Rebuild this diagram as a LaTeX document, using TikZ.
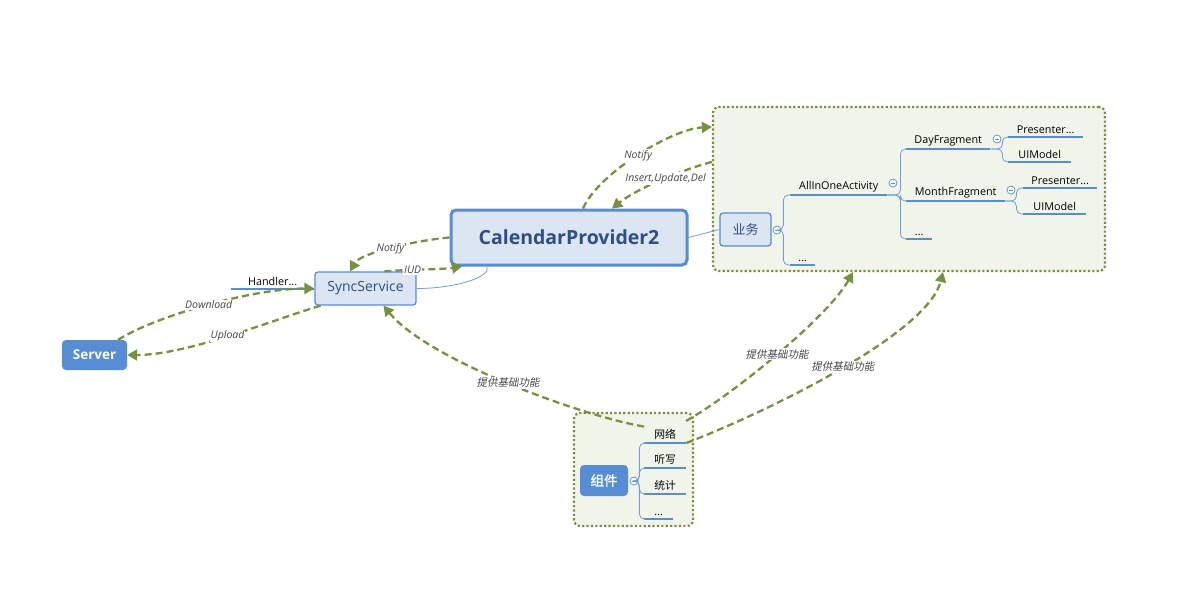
\documentclass[tikz,border=0pt]{standalone}
\usepackage{fontspec}
\setmainfont{Open Sans}
\newfontfamily\cjk{Noto Sans CJK SC}
\newfontfamily\cjkbold[FakeBold=1.6]{Noto Sans CJK SC}
\newfontfamily\cjkslant[FakeSlant=0.2]{Noto Sans CJK SC}
\usetikzlibrary{arrows.meta}

\definecolor{mapblue}{RGB}{86,141,212}
\definecolor{maplight}{RGB}{220,230,242}
\definecolor{mapnavy}{RGB}{44,78,138}
\definecolor{flowgreen}{RGB}{118,146,60}
\definecolor{groupfill}{RGB}{241,245,233}
\definecolor{labelgray}{RGB}{70,70,70}
\newcommand\mapdots{...}

\begin{document}
\begin{tikzpicture}[x=1pt, y=-1pt,
    group/.style={draw=flowgreen, fill=groupfill, line width=2.2pt,
                  dash pattern=on 2.2pt off 2.2pt, rounded corners=6pt},
    central/.style={draw=mapblue, fill=maplight, line width=3pt, rounded corners=5pt,
                    text=mapnavy, font=\fontsize{19.5}{22}\selectfont\bfseries},
    topic/.style={draw=mapblue, fill=maplight, line width=1.3pt, rounded corners=3pt,
                  text=mapnavy, font=\fontsize{14}{16}\selectfont},
    solid topic/.style={fill=mapblue, rounded corners=4pt, text=white,
                        font=\fontsize{13.5}{15}\selectfont\bfseries},
    leaf/.style={anchor=south west, inner xsep=0pt, inner ysep=3pt, text=black,
                 font=\fontsize{10.8}{12}\selectfont},
    underline/.style={mapblue, line width=2pt},
    branch/.style={mapblue!85, line width=0.8pt, rounded corners=5pt},
    link/.style={mapblue!85, line width=0.8pt},
    fold/.style={circle, draw=mapblue, fill=white, line width=0.7pt,
                 minimum size=8pt, inner sep=0pt,
                 path picture={\draw[mapblue, line width=0.7pt]
                   ([xshift=-2.2pt]path picture bounding box.center) --
                   ([xshift=2.2pt]path picture bounding box.center);}},
    flow/.style={flowgreen, line width=2.3pt, dash pattern=on 7pt off 4pt,
                 -{Triangle[length=10pt,width=11pt]}},
    flowlabel/.style={fill=white, inner sep=1pt, text=labelgray,
                      font=\fontsize{10.5}{12}\selectfont\itshape},
    cjklabel/.style={flowlabel, font=\cjkslant\fontsize{10.5}{12}\selectfont}]

  \useasboundingbox (0,0) rectangle (1197,590);

  % Groups
  \node[group, minimum width=392pt, minimum height=164pt] (biz) at (909,189) {};
  \node[group, minimum width=119pt, minimum height=113pt] (comp) at (633.5,469.5) {};

  % Main topics
  \node[central, minimum width=236pt, minimum height=55pt] (calendar) at (569,237.5) {CalendarProvider2};
  \node[topic, minimum width=101pt, minimum height=33pt] (sync) at (365.5,288.5) {SyncService};
  \node[solid topic, minimum width=65pt, minimum height=30pt] (server) at (94.5,355) {Server};
  \node[topic, minimum width=51pt, minimum height=33pt, font=\cjk\fontsize{13}{15}\selectfont] (biz main) at (745.5,229.5) {业务};
  \node[solid topic, minimum width=48pt, minimum height=31pt, font=\cjkbold\fontsize{13.5}{15}\selectfont] (comp main) at (604,480.5) {组件};

  % Leaves with underlines
  \foreach \name/\txt/\x/\y/\w in {
      act/AllInOneActivity/790/195/97, biz more/\mapdots/790/265/25,
      day/DayFragment/906/149/84, month/MonthFragment/906/201/99, act more/\mapdots/906/239/26,
      day pres/Presenter\mapdots/1008/137/75, day ui/UIModel/1008/162/63,
      month pres/Presenter\mapdots/1023/188/74, month ui/UIModel/1023/214/63,
      net/{\cjk 网络}/644/443/42, dict/{\cjk 听写}/644/468/42,
      stat/{\cjk 统计}/644/494/42, comp more/\mapdots/644/519/29} {
    \node[leaf, minimum width=\w pt] (\name) at (\x,\y) {\txt};
    \draw[underline] (\name.south west) -- (\name.south east);
  }
  \node[leaf, anchor=south east, minimum width=83pt] (handler) at (sync.west) {Handler...};
  \draw[underline] (handler.south west) -- (handler.south east);

  % Fold markers
  \node[fold] (biz fold) at (777,230) {};
  \node[fold] (act fold) at (893,183) {};
  \node[fold] (day fold) at (997,139) {};
  \node[fold] (month fold) at (1011,190) {};
  \node[fold] (comp fold) at (634,481) {};

  % Branches
  \foreach \child in {act, biz more}
    \draw[branch] (biz fold.east) -- ++(2,0) |- (\child.south west);
  \foreach \child in {day, month, act more}
    \draw[branch] (act.south east) -- ++(13,0) |- (\child.south west);
  \foreach \child in {day pres, day ui}
    \draw[branch] (day.south east) -- ++(12,0) |- (\child.south west);
  \foreach \child in {month pres, month ui}
    \draw[branch] (month.south east) -- ++(11,0) |- (\child.south west);
  \foreach \child in {net, dict, stat, comp more}
    \draw[branch] (comp fold.east) -- ++(1,0) |- (\child.south west);

  % Thin links between topics
  \draw[link] (calendar.east) -- (biz main.west);
  \draw[link] (sync.east) .. controls +(40,0) and +(5,10) .. ([xshift=-82pt]calendar.south);

  % Data flows
  \draw[flow] ([xshift=14pt]calendar.north) .. controls +(15,-35) and +(-40,2) ..
    node[flowlabel, pos=.5] {Notify} ([yshift=-21pt]biz.north west);
  \draw[flow] ([yshift=-56pt]biz.north west) .. controls +(-30,8) and +(25,-20) ..
    node[flowlabel, pos=.45] {Insert,Update,Del} ([xshift=43pt]calendar.north);
  \draw[flow] (calendar.west) .. controls +(-35,3) and +(10,-18) ..
    node[flowlabel, pos=.5] {Notify} ([xshift=-15.5pt]sync.north);
  \draw[flow] ([xshift=19pt]sync.north) .. controls +(25,-2) and +(-20,3) ..
    node[flowlabel, pos=.35] {IUD} ([xshift=-107pt]calendar.south);
  \draw[flow] ([xshift=23.5pt]server.north) .. controls +(40,-25) and +(-60,0) ..
    node[flowlabel, pos=.5] {Download} (sync.west);
  \draw[flow] ([xshift=-45pt]sync.south) .. controls +(-50,15) and +(60,0) ..
    node[flowlabel, pos=.5] {Upload} (server.east);

  % Components serve the others
  \draw[flow] (net.north west) .. controls +(-60,-10) and +(45,55) ..
    node[cjklabel, pos=.5] {提供基础功能} ([xshift=18pt]sync.south);
  \draw[flow] ([xshift=-8pt,yshift=-9pt]comp.north east) .. controls +(45,-25) and +(-25,45) ..
    node[cjklabel, pos=.5] {提供基础功能} ([xshift=-56pt]biz.south);
  \draw[flow] (net.south east) .. controls +(90,-35) and +(-15,60) ..
    node[cjklabel, pos=.5] {提供基础功能} ([xshift=34pt]biz.south);

\end{tikzpicture}
\end{document}
